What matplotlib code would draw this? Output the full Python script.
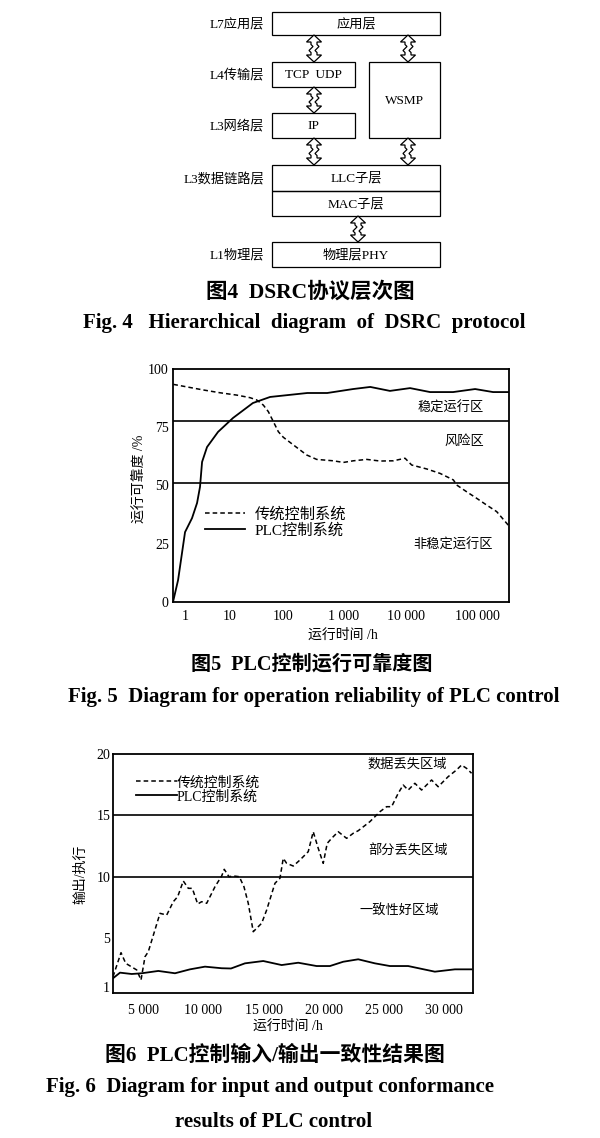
import numpy as np
import matplotlib
matplotlib.use("Agg")
import matplotlib.pyplot as plt
from matplotlib.patches import Rectangle, Polygon
from matplotlib.font_manager import FontProperties
from matplotlib.ticker import NullLocator

# ---------------- data ----------------
# Fig.4 protocol stack
layer_names = ["L7应用层", "L4传输层", "L3网络层", "L3数据链路层", "L1物理层"]
block_texts = ["应用层", "TCP  UDP", "WSMP", "IP", "LLC子层", "MAC子层", "物理层PHY"]

# Fig.5 reliability vs running time (hours, %)
rel_ticks = [1, 10, 100, 1000, 10000, 100000]
rel_tick_labels = ["1", "10", "100", "1 000", "10 000", "100 000"]
rel_yticks = [0, 25, 50, 75, 100]
trad_hours = [0.55, 2.55, 6.0, 13.4, 23.8, 31.9, 42.5, 52.8, 65.7, 81.5, 101, 148, 244,
              356, 668, 975, 1412, 2323, 3810, 6250, 9640, 12000, 19550, 30100, 46400,
              51700, 71500, 98900, 136700, 189000, 275000]
trad_rel = [93.4, 91.0, 89.8, 88.8, 87.7, 86.7, 84.5, 81.7, 77.4, 73.1, 70.7, 67.4, 63.1,
            61.2, 60.6, 59.9, 60.6, 61.2, 60.5, 60.6, 61.7, 58.8, 57.1, 55.2, 52.4,
            50.2, 47.3, 44.5, 41.6, 38.8, 33.0]
plc_hours = [0.54, 0.70, 1.0, 1.43, 1.85, 2.15, 2.39, 3.08, 5.41, 11.4, 27.0, 57.0, 250,
             530, 1400, 2650, 5500, 11400, 21800, 46000, 94000, 168000, 282000]
plc_rel = [0.0, 9.4, 30.0, 36.0, 42.5, 49.4, 60.1, 66.5, 73.0, 79.0, 85.4, 88.0, 89.7,
           89.7, 91.4, 92.3, 90.6, 91.8, 90.1, 90.1, 91.4, 90.1, 90.1]
rel_zone_bounds = [51, 77.5]
rel_zone_names = ["稳定运行区", "风险区", "非稳定运行区"]
legend_names = ["传统控制系统", "PLC控制系统"]

# Fig.6 input/output conformance vs running time
io_xticks = [5000, 10000, 15000, 20000, 25000, 30000]
io_xtick_labels = ["5 000", "10 000", "15 000", "20 000", "25 000", "30 000"]
io_yticks = [1, 5, 10, 15, 20]
trad_io_hours = [2500, 3166, 3556, 4470, 4826, 5158, 5432, 6404, 6960, 7508, 7873, 8338,
                 8753, 9085, 9534, 9866, 10281, 10970, 11526, 11742, 12132, 12489, 12987,
                 13377, 13734, 14149, 14846, 15262, 15951, 16366, 16640, 16922, 17470,
                 18026, 18715, 19130, 19545, 19960, 20292, 20657, 21205, 21903, 22451,
                 22866, 23837, 24667, 25223, 25638, 26186, 26601, 27016, 27572, 28129,
                 28959, 29507, 30337, 31034, 31449, 31864, 32280]
trad_io = [1.83, 3.79, 2.92, 2.38, 1.56, 3.46, 3.87, 7.0, 6.86, 7.95, 8.36, 9.64,
           9.04, 9.04, 7.76, 7.95, 7.82, 9.17, 10.05, 10.59, 9.99, 10.05, 9.99,
           9.17, 7.82, 5.5, 6.19, 7.27, 9.45, 9.86, 11.49, 11.08, 10.86,
           11.35, 12.03, 13.66, 12.31, 11.08, 12.71, 13.12, 13.66, 13.12, 13.53,
           13.74, 14.48, 15.29, 15.70, 15.70, 16.79, 17.47, 17.06, 17.61, 17.06,
           17.88, 17.33, 18.15, 18.7, 19.1, 18.83, 18.43]
plc_io_hours = [2500, 3083, 4054, 4885, 6263, 7649, 8894, 10139, 11526, 12300, 13460,
                14980, 16507, 17885, 19413, 20516, 21620, 22866, 24252, 25497, 27016,
                29233, 30893, 32280]
plc_io = [1.70, 2.16, 2.05, 2.11, 2.30, 2.11, 2.43, 2.65, 2.52, 2.50, 2.92,
          3.11, 2.78, 2.97, 2.70, 2.70, 3.05, 3.25, 2.92, 2.70, 2.70,
          2.24, 2.43, 2.43]
io_zone_bounds = [10, 15]
io_zone_names = ["数据丢失区域", "部分丢失区域", "一致性好区域"]

# ---------------- styles ----------------
W, H = 600, 1138
MIX = ["Liberation Serif", "Noto Sans CJK SC"]
SERIF = "Liberation Serif"
plt.rcParams["font.family"] = MIX

fig = plt.figure(figsize=(W / 100, H / 100), dpi=100)
fig.patch.set_facecolor("white")

# overlay in pixel coordinates for diagram + captions
ov = fig.add_axes([0, 0, 1, 1])
ov.set_xlim(0, W)
ov.set_ylim(H, 0)
ov.axis("off")
ov.patch.set_visible(False)

# ---- Fig.4 diagram ----
box_geo = [(272, 12, 440, 35), (272, 62, 355, 87), (369, 62, 440, 138),
           (272, 113, 355, 138), (272, 165, 440, 191), (272, 191, 440, 216),
           (272, 242, 440, 267)]
for (x0, y0, x1, y1), t in zip(box_geo, block_texts):
    ov.add_patch(Rectangle((x0, y0), x1 - x0, y1 - y0, fill=False, lw=0.9, ec="black"))
    ov.text((x0 + x1) / 2, (y0 + y1) / 2 + 0.5, t, ha="center", va="center",
            fontsize=9.5, family=MIX)

label_y = [24, 75, 126, 180, 255]
for t, y in zip(layer_names, label_y):
    ov.text(264, y, t, ha="right", va="center", fontsize=9.5, family=MIX)


def darrow(cx, y0, y1):
    L = y1 - y0
    h, hw, sw, m = 7.0, 7.5, 3.0, L / 2
    pts = [(0, 0), (hw, h), (sw, h), (sw, m - 4), (sw + 2, m - 2), (sw - 2, m + 2),
           (sw, m + 4), (sw, L - h), (hw, L - h), (0, L), (-hw, L - h), (-sw, L - h),
           (-sw, m + 4), (-sw - 2, m + 2), (-sw + 2, m - 2), (-sw, m - 4), (-sw, h),
           (-hw, h)]
    pts = [(cx + px, y0 + py) for px, py in pts]
    ov.add_patch(Polygon(pts, closed=True, fc="white", ec="black", lw=0.9))


for cx, a, b in [(314, 35, 62), (408, 35, 62), (314, 87, 113), (314, 138, 165),
                 (408, 138, 165), (358, 216, 242)]:
    darrow(cx, a, b)

# ---- captions ----
cap_cn = dict(ha="center", va="center", fontweight="bold", family=MIX)
cap_en = dict(ha="center", va="center", fontsize=15, fontweight="bold", family=SERIF)
ov.text(310, 292, "图4  DSRC协议层次图", fontsize=15.5, **cap_cn)
ov.text(304, 323, "Fig. 4   Hierarchical  diagram  of  DSRC  protocol", **cap_en)
ov.text(312, 665, "图5  PLC控制运行可靠度图", fontsize=14.5, **cap_cn)
ov.text(314, 697, "Fig. 5  Diagram for operation reliability of PLC control", **cap_en)
ov.text(275, 1056, "图6  PLC控制输入/输出一致性结果图", fontsize=15, **cap_cn)
ov.text(270, 1087, "Fig. 6  Diagram for input and output conformance", **cap_en)
ov.text(274, 1122, "results of PLC control", **cap_en)


def px_axes(l, t, r, b):
    return fig.add_axes([l / W, (H - b) / H, (r - l) / W, (b - t) / H])


def style_axes(ax):
    for s in ax.spines.values():
        s.set_linewidth(1.3)
    ax.tick_params(length=0, labelsize=10)
    for lab in ax.get_xticklabels() + ax.get_yticklabels():
        lab.set_family(SERIF)


# ---- Fig.5 ----
_dec = np.array([-1, 0, 1, 2, 3, 4, 5, 6], float)
_pos = np.array([140, 185, 230, 283, 344, 406, 477, 548], float)


def fwd(x):
    x = np.asarray(x, float)
    lx = np.log10(np.where(x > 0, x, 1e-12))
    return np.interp(lx, _dec, _pos)


def inv(p):
    return 10 ** np.interp(np.asarray(p, float), _pos, _dec)


ax5 = px_axes(173, 369, 509, 602)
ax5.set_xscale("function", functions=(fwd, inv))
ax5.set_xlim(0.54, 282000)
ax5.set_ylim(0, 100)
l1, = ax5.plot(trad_hours, trad_rel, color="black", lw=1.1, ls=(0, (3, 2)))
l2, = ax5.plot(plc_hours, plc_rel, color="black", lw=1.3)
for yb in rel_zone_bounds:
    ax5.axhline(yb, color="black", lw=1.2)
ax5.set_xticks(rel_ticks)
ax5.set_xticklabels(rel_tick_labels)
ax5.xaxis.set_minor_locator(NullLocator())
ax5.set_yticks(rel_yticks)
style_axes(ax5)
ax5.tick_params(axis="x", pad=6)
ax5.tick_params(axis="y", pad=3)
ax5.set_xlabel("运行时间 /h", fontsize=10, family=MIX)
ax5.xaxis.set_label_coords(0.506, -0.112)
ax5.set_ylabel("运行可靠度 /%", fontsize=10, family=MIX)
ax5.yaxis.set_label_coords(-0.080, 0.53)
zkw = dict(fontsize=9.5, family=MIX, transform=ax5.transAxes, va="center")
ax5.text(0.925, 0.833, rel_zone_names[0], ha="right", **zkw)
ax5.text(0.925, 0.691, rel_zone_names[1], ha="right", **zkw)
ax5.text(0.952, 0.245, rel_zone_names[2], ha="right", **zkw)
ax5.legend([l1, l2], legend_names, loc="upper left", bbox_to_anchor=(0.095, 0.408),
           frameon=False, borderpad=0, borderaxespad=0, handlelength=2.6,
           handletextpad=0.65, labelspacing=0.1,
           prop=FontProperties(family=MIX, size=11))

# ---- Fig.6 ----
ax6 = px_axes(113, 754, 473, 993)
ax6.set_xlim(2500, 32400)
ax6.set_ylim(0.5, 20)
m1, = ax6.plot(trad_io_hours, trad_io, color="black", lw=1.1, ls=(0, (3, 2)))
m2, = ax6.plot(plc_io_hours, plc_io, color="black", lw=1.3)
for yb in io_zone_bounds:
    ax6.axhline(yb, color="black", lw=1.2)
ax6.set_xticks(io_xticks)
ax6.set_xticklabels(io_xtick_labels)
ax6.set_yticks(io_yticks)
style_axes(ax6)
ax6.tick_params(axis="x", pad=8)
ax6.tick_params(axis="y", pad=2)
ax6.set_xlabel("运行时间 /h", fontsize=10, family=MIX)
ax6.xaxis.set_label_coords(0.486, -0.113)
ax6.set_ylabel("输出/执行", fontsize=10, family=MIX)
ax6.yaxis.set_label_coords(-0.072, 0.498)
zkw6 = dict(fontsize=9.5, family=MIX, transform=ax6.transAxes, va="center", ha="left")
ax6.text(0.708, 0.958, io_zone_names[0], **zkw6)
ax6.text(0.708, 0.598, io_zone_names[1], **zkw6)
ax6.text(0.686, 0.343, io_zone_names[2], **zkw6)
ax6.legend([m1, m2], legend_names, loc="upper left", bbox_to_anchor=(0.064, 0.908),
           frameon=False, borderpad=0, borderaxespad=0, handlelength=2.95,
           handletextpad=0.0, labelspacing=0.05,
           prop=FontProperties(family=MIX, size=10))

fig.savefig("out.png", dpi=100, facecolor="white")
